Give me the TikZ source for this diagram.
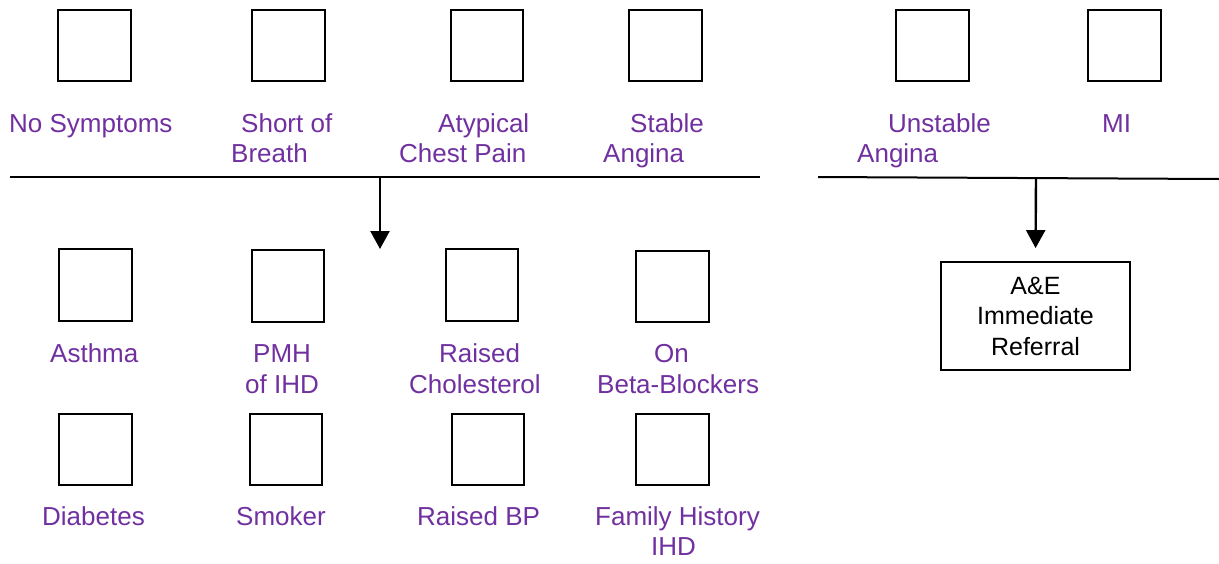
\documentclass[tikz,border=0pt]{standalone}
\usepackage{fontspec}
\setmainfont{Liberation Sans}
\usetikzlibrary{arrows.meta}
\definecolor{labelpurple}{RGB}{112,48,160}
\tikzset{
  tickbox/.style={draw=black, line width=1.8pt, minimum width=72.5pt, minimum height=71.5pt, inner sep=0pt},
  lbl/.style={anchor=base west, inner sep=0pt, text=labelpurple, font=\fontsize{26pt}{31pt}\selectfont},
  rule/.style={line width=2pt},
  flow/.style={line width=2.4pt, -{Triangle[length=18pt,width=19pt]}},
  outcome/.style={draw=black, line width=1.8pt, minimum width=189pt, minimum height=108pt, align=center,
    font=\fontsize{25pt}{30.5pt}\selectfont}
}
\begin{document}
\begin{tikzpicture}[x=1pt, y=-1pt]
\useasboundingbox (0,0) rectangle (1219,563);

% symptom boxes along the top
\node[tickbox] (bNone)     at (94.5,45.5) {};
\node[tickbox] (bBreath)   at (288.5,45.5) {};
\node[tickbox] (bAtypical) at (487,45.5) {};
\node[tickbox] (bStable)   at (665.5,45.5) {};
\node[tickbox] (bUnstable) at (932.5,45.5) {};
\node[tickbox] (bMI)       at (1124.5,45.5) {};

% symptom labels
\node[lbl] (tNone)      at (9,132)   {No Symptoms};
\node[lbl] (tBreathA)   at (241,132) {Short of};
\node[lbl] (tBreathB)   at (231,162) {Breath};
\node[lbl] (tAtypicalA) at (438,132) {Atypical};
\node[lbl] (tAtypicalB) at (399,162) {Chest Pain};
\node[lbl] (tStableA)   at (630,132) {Stable};
\node[lbl] (tStableB)   at (603,162) {Angina};
\node[lbl] (tUnstableA) at (888,132) {Unstable};
\node[lbl] (tUnstableB) at (857,162) {Angina};
\node[lbl] (tMI)        at (1102,132) {MI};

% left branch: collecting rule and arrow down to the risk factors
\coordinate (ruleL1) at (10,177);
\coordinate (ruleL2) at (760,177);
\coordinate (dropL)  at (380,177);
\coordinate (tipL)   at (380,249);
\draw[rule] (ruleL1) -- (ruleL2);
\draw[flow] (dropL) -- (tipL);

% right branch: collecting rule and arrow to the referral box
\coordinate (ruleR1) at (818,177);
\coordinate (ruleR2) at (1219,179);
\coordinate (dropR)  at (1036,178);
\draw[rule] (ruleR1) -- (ruleR2);
\node[outcome] (referral) at (1035.5,316) {A\&E\\Immediate\\Referral};
\draw[flow, shorten >=13pt] (dropR) -- (referral.north);

% risk factor boxes, first row
\node[tickbox] (bAsthma) at (95.5,285) {};
\node[tickbox] (bPMH)    at (288,286) {};
\node[tickbox] (bChol)   at (482,285) {};
\node[tickbox] (bBeta)   at (672.5,286.5) {};

% risk factor labels, first row
\node[lbl] (tAsthma) at (50,362)  {Asthma};
\node[lbl] (tPMHA)   at (253,362) {PMH};
\node[lbl] (tPMHB)   at (245,393) {of IHD};
\node[lbl] (tCholA)  at (439,362) {Raised};
\node[lbl] (tCholB)  at (409,393) {Cholesterol};
\node[lbl] (tBetaA)  at (654,362) {On};
\node[lbl] (tBetaB)  at (597,393) {Beta-Blockers};

% risk factor boxes, second row
\node[tickbox] (bDiabetes) at (95.5,449.5) {};
\node[tickbox] (bSmoker)   at (286,449.5) {};
\node[tickbox] (bBP)       at (488,449.5) {};
\node[tickbox] (bFamily)   at (672.5,449.5) {};

% risk factor labels, second row
\node[lbl] (tDiabetes) at (42,525)  {Diabetes};
\node[lbl] (tSmoker)   at (236,525) {Smoker};
\node[lbl] (tBP)       at (417,525) {Raised BP};
\node[lbl] (tFamilyA)  at (595,525) {Family History};
\node[lbl] (tFamilyB)  at (651,555) {IHD};
\end{tikzpicture}
\end{document}
